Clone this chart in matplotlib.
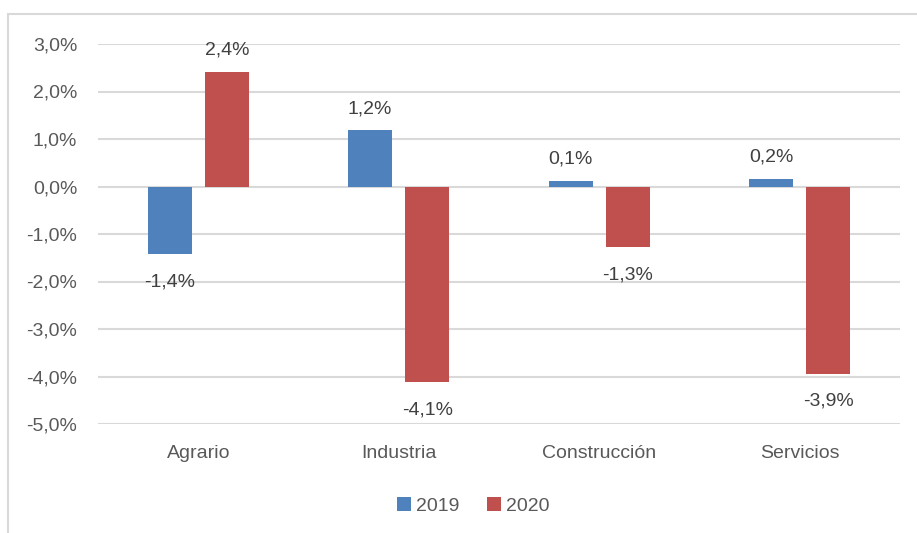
import matplotlib
matplotlib.use("Agg")
import matplotlib.pyplot as plt
import numpy as np
from matplotlib.patches import Rectangle

categorias = ["Agrario", "Industria", "Construcción", "Servicios"]
v2019 = [-1.43, 1.18, 0.11, 0.16]
v2020 = [2.42, -4.12, -1.28, -3.94]
etiq2019 = ["-1,4%", "1,2%", "0,1%", "0,2%"]
etiq2020 = ["2,4%", "-4,1%", "-1,3%", "-3,9%"]
ticks = [3, 2, 1, 0, -1, -2, -3, -4, -5]

azul = "#4F81BD"
rojo = "#C0504D"
gris = "#595959"

plt.rcParams['font.family'] = ['Liberation Sans Narrow', 'Liberation Sans', 'DejaVu Sans']

fig = plt.figure(figsize=(9.17, 5.33), dpi=100)
# marco gris del grafico
fig.patches.append(Rectangle((8/917, -0.1), 1.0, (533-14)/533 + 0.1, transform=fig.transFigure,
                             fill=False, edgecolor="#D9D9D9", linewidth=1.5))

ax = fig.add_axes([98/917, (533-424)/533, (900-98)/917, (424-44)/533])

x = np.arange(len(categorias))
w = 0.22
d = 0.143
b1 = ax.bar(x - d, v2019, w, color=azul, label="2019", zorder=3)
b2 = ax.bar(x + d, v2020, w, color=rojo, label="2020", zorder=3)

for xs, vals, etiqs in [(x - d, v2019, etiq2019), (x + d, v2020, etiq2020)]:
    for xi, v, t in zip(xs, vals, etiqs):
        if v >= 0:
            ax.text(xi, v + 0.28, t, ha="center", va="bottom", fontsize=14, color="#404040")
        else:
            ax.text(xi, v - 0.4, t, ha="center", va="top", fontsize=14, color="#404040")

ax.set_xlim(-0.5, 3.5)
ax.set_ylim(-5, 3)
ax.set_yticks(ticks)
ax.set_yticklabels([("%.1f%%" % t).replace(".", ",") for t in ticks])
ax.set_xticks(x)
ax.set_xticklabels(categorias)
ax.tick_params(axis="both", length=0, labelsize=14, colors=gris)
ax.tick_params(axis="y", pad=15)
ax.tick_params(axis="x", pad=15)
ax.grid(axis="y", color="#D9D9D9", linewidth=1.5, zorder=0)
for s in ax.spines.values():
    s.set_visible(False)

fig.legend(handles=[b1, b2], labels=["2019", "2020"], loc="center",
           bbox_to_anchor=(473/917, (533-506)/533), ncol=2, frameon=False,
           fontsize=14, handlelength=0.75, handleheight=0.75, handletextpad=0.25,
           columnspacing=1.4, labelcolor=gris)

fig.savefig("out.png", dpi=100)
